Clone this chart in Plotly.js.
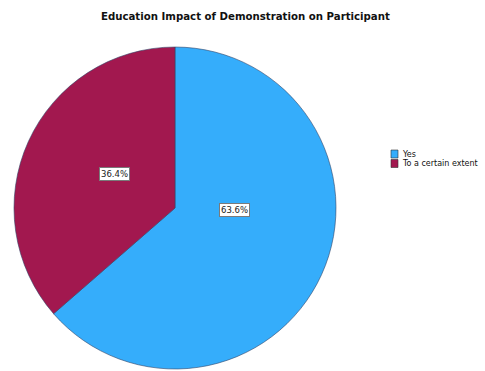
<!DOCTYPE html>
<html>
<head>
<meta charset="utf-8">
<script src="https://cdn.plot.ly/plotly-3.0.1.min.js"></script>
<style>html,body{margin:0;padding:0;background:#fff;}#chart{width:485px;height:371px;}</style>
</head>
<body>
<div id="chart"></div>
<script>
const labels = ["Yes", "To a certain extent"];
const values = [63.6, 36.4];
const colors = ["#35adfb", "#a2184f"];
const chartTitle = "Education Impact of Demonstration on Participant";

// label box positions (paper coords) for each slice
const labelPos = [[0.4845, 0.434], [0.204, 0.531]];

const total = values.reduce((a, b) => a + b, 0);

const trace = {
  type: "pie",
  labels: labels,
  values: values,
  sort: false,
  direction: "clockwise",
  rotation: 0,
  marker: { colors: colors, line: { color: "#34466a", width: 0.6 } },
  textinfo: "none",
  hoverinfo: "label+percent",
  showlegend: false,
  domain: { x: [14/485, 336/485], y: [1 - 369/371, 1 - 47/371] }
};

const annotations = values.map((v, i) => ({
  xref: "paper", yref: "paper",
  x: labelPos[i][0], y: labelPos[i][1],
  text: (v / total * 100).toFixed(1) + "%",
  showarrow: false,
  bgcolor: "#ffffff",
  bordercolor: "#7a7a7a",
  borderwidth: 1,
  borderpad: 1,
  font: { family: "DejaVu Sans", size: 8.5, color: "#222" }
}));

const shapes = [];
labels.forEach((lab, i) => {
  const top = 150 + i * 9.5;
  shapes.push({
    type: "rect", xref: "paper", yref: "paper",
    x0: 391/485, x1: 398/485,
    y0: 1 - (top + 8)/371, y1: 1 - top/371,
    fillcolor: colors[i], line: { color: "#333", width: 0.6 }
  });
  annotations.push({
    xref: "paper", yref: "paper",
    x: 400/485, y: 1 - (top + 4)/371,
    xanchor: "left", yanchor: "middle",
    text: lab, showarrow: false,
    font: { family: "DejaVu Sans", size: 8, color: "#111" }
  });
});

const layout = {
  width: 485, height: 371,
  margin: { l: 0, r: 0, t: 0, b: 0 },
  paper_bgcolor: "#ffffff",
  title: {
    text: "<b>" + chartTitle + "</b>",
    x: 0.506, xanchor: "center",
    y: 1 - 16/371, yanchor: "middle",
    font: { family: "DejaVu Sans", size: 10.2, color: "#111" }
  },
  annotations: annotations,
  shapes: shapes,
  showlegend: false
};

Plotly.newPlot("chart", [trace], layout, { displayModeBar: false, staticPlot: true });
</script>
</body>
</html>
